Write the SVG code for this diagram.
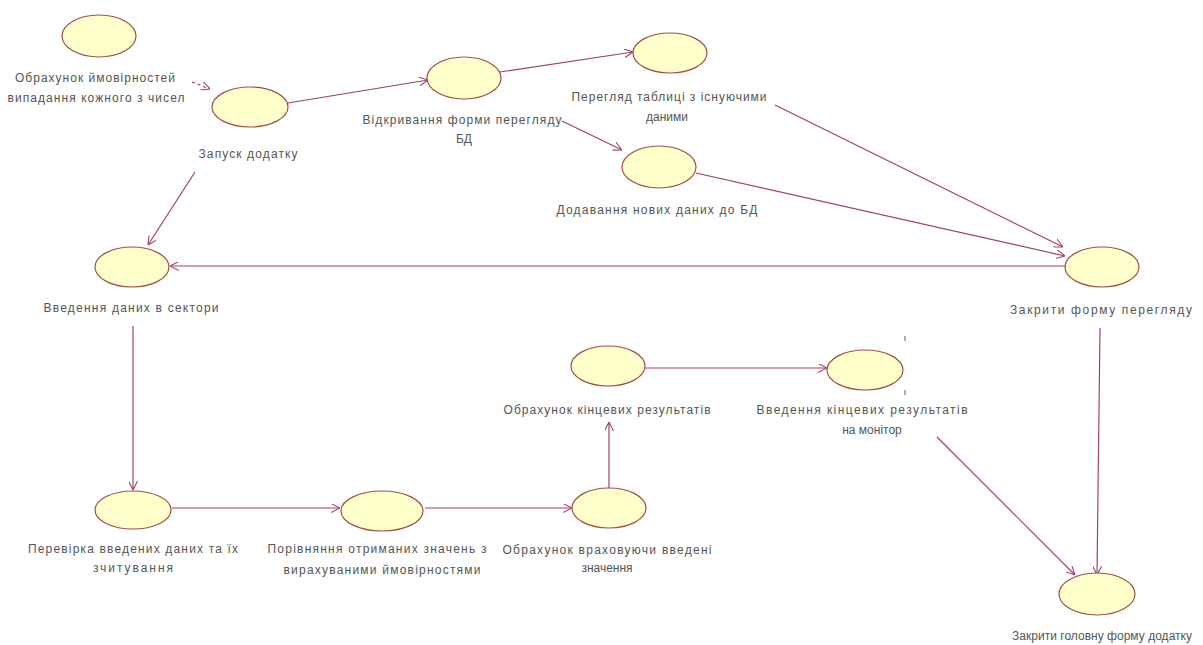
<svg xmlns="http://www.w3.org/2000/svg" width="1203" height="645" viewBox="0 0 1203 645">
<defs>
<style>
.uc{fill:#ffffcc;stroke:#a0504a;stroke-width:1.2}
.lb{font-family:"Liberation Sans",Arial,sans-serif;font-size:12px;fill:#555;text-anchor:middle}
.e{stroke:#a0406a;stroke-width:1.2;fill:none;marker-end:url(#ah)}
.d{stroke-dasharray:3,3}
.tk{stroke:#777;stroke-width:1.2}
</style>
<marker id="ah" viewBox="0 0 10 10" refX="10" refY="5" markerWidth="9" markerHeight="9" orient="auto" markerUnits="userSpaceOnUse">
<path d="M0,0 L10,5 L0,10" fill="none" stroke="#a0406a" stroke-width="1.2"/>
</marker>
</defs>
<rect width="1203" height="645" fill="#fff"/>
<g id="connectors">
<path class="e d" d="M192,82 L210,89"/>
<path class="e" d="M288,103 L428,80"/>
<path class="e" d="M500,72 L633,52"/>
<path class="e" d="M562,121 L622,150"/>
<path class="e" d="M775,105 L1063,247"/>
<path class="e" d="M696,173 L1065,256"/>
<path class="e" d="M1065,266 L170,266"/>
<path class="e" d="M195,172 L148,245"/>
<path class="e" d="M133,326 L133,490"/>
<path class="e" d="M172,508 L340,508"/>
<path class="e" d="M425,508 L572,508"/>
<path class="e" d="M609,488 L609,422"/>
<path class="e" d="M645,368 L827,368"/>
<path class="e" d="M937,437 L1075,575"/>
<path class="e" d="M1100,328 L1097,575"/>
</g>
<g id="n1"><ellipse class="uc" cx="99" cy="36" rx="37" ry="21"/><text class="lb" x="95" y="82" textLength="160">Обрахунок ймовірностей</text><text class="lb" x="96" y="102" textLength="177">випадання кожного з чисел</text></g>
<g id="n2"><ellipse class="uc" cx="250" cy="107" rx="38" ry="20"/><text class="lb" x="248" y="158" textLength="99">Запуск додатку</text></g>
<g id="n3"><ellipse class="uc" cx="464" cy="78" rx="37" ry="21"/><text class="lb" x="462" y="124" textLength="199">Відкривання форми перегляду</text><text class="lb" x="464" y="143">БД</text></g>
<g id="n4"><ellipse class="uc" cx="670" cy="53" rx="37" ry="20"/><text class="lb" x="669" y="101" textLength="195">Перегляд таблиці з існуючими</text><text class="lb" x="667" y="121">даними</text></g>
<g id="n5"><ellipse class="uc" cx="659" cy="167" rx="37" ry="21"/><text class="lb" x="657" y="214" textLength="201">Додавання нових даних до БД</text></g>
<g id="n6"><ellipse class="uc" cx="1102" cy="267" rx="37" ry="20"/><text class="lb" x="1101" y="314" textLength="182">Закрити форму перегляду</text></g>
<g id="n7"><ellipse class="uc" cx="132" cy="267" rx="37" ry="20"/><text class="lb" x="131" y="312" textLength="175">Введення даних в сектори</text></g>
<g id="n8"><ellipse class="uc" cx="133" cy="510" rx="38" ry="19"/><text class="lb" x="133" y="553" textLength="210">Перевірка введених даних та їх</text><text class="lb" x="133" y="572" textLength="80">зчитування</text></g>
<g id="n9"><ellipse class="uc" cx="382" cy="511" rx="41" ry="20"/><text class="lb" x="377" y="553" textLength="219">Порівняння отриманих значень з</text><text class="lb" x="382" y="574" textLength="197">вирахуваними ймовірностями</text></g>
<g id="n10"><ellipse class="uc" cx="609" cy="508" rx="37" ry="20"/><text class="lb" x="607" y="554" textLength="209">Обрахунок враховуючи введені</text><text class="lb" x="607" y="572">значення</text></g>
<g id="n11"><ellipse class="uc" cx="608" cy="366" rx="37" ry="20"/><text class="lb" x="607" y="414" textLength="207">Обрахунок кінцевих результатів</text></g>
<g id="n12"><ellipse class="uc" cx="865" cy="370" rx="38" ry="20"/><text class="lb" x="862" y="414" textLength="211">Введення кінцевих результатів</text><text class="lb" x="872" y="434">на монітор</text><line class="tk" x1="905" y1="336" x2="905" y2="341"/><line class="tk" x1="905" y1="390" x2="905" y2="395"/></g>
<g id="n13"><ellipse class="uc" cx="1097" cy="594" rx="38" ry="21"/><text class="lb" x="1102" y="640" textLength="180">Закрити головну форму додатку</text></g>
</svg>
